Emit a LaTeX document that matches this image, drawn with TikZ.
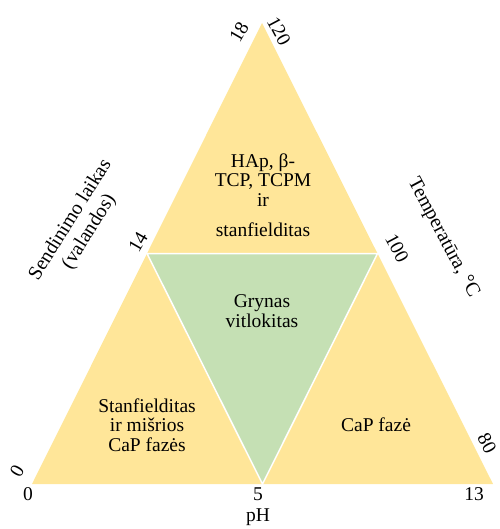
\documentclass[tikz,border=0pt]{standalone}
\usepackage{fontspec}
\setmainfont{LiberationSerif}[Extension=.ttf, UprightFont=*-Regular, BoldFont=*-Bold]
\definecolor{goldfill}{HTML}{FFE699}
\definecolor{greenfill}{HTML}{C5E0B4}
\begin{document}
\begin{tikzpicture}[x=1pt,y=-1pt,
  lbl/.style={font=\fontsize{19.5}{19.5}\selectfont, inner sep=0pt, align=center},
  ttl/.style={font=\fontsize{20}{22}\selectfont, inner sep=0pt, align=center},
  num/.style={font=\fontsize{19.5}{19.5}\selectfont, inner sep=0pt},
  sep/.style={draw=white, line width=1.5pt}]
\useasboundingbox (0,0) rectangle (499,529);
\coordinate (A) at (32,484);
\coordinate (B) at (493,484);
\coordinate (C) at (262,23);
\coordinate (L) at (147,253.5);
\coordinate (R) at (377.5,253.5);
\coordinate (M) at (262.5,484);
\fill[goldfill] (A) -- (B) -- (C) -- cycle;
\fill[greenfill] (L) -- (R) -- (M) -- cycle;
\draw[sep] (L) -- (R) -- (M) -- cycle;
% region texts
\node[lbl] (top) at (263,180) {HAp, β-\\TCP, TCPM\\ir};
\node[lbl] (top2) at (263,230) {stanfielditas};
\node[lbl] (mid) at (262,311) {Grynas\\vitlokitas};
\node[lbl] (left) at (147,425) {Stanfielditas\\ir mišrios\\CaP fazės};
\node[lbl] (right) at (376,425) {CaP fazė};
% axis numbers
\node[num, rotate=60] (n18) at (239,32) {18};
\node[num, rotate=-62] (n120) at (279,31) {120};
\node[num, rotate=60] (n14) at (138,242) {14};
\node[num, rotate=-62] (n100) at (397,248) {100};
\node[num, rotate=60] (n0l) at (17,471) {0};
\node[num, rotate=-62] (n80) at (487,443) {80};
\node[num] (b0) at (28,494) {0};
\node[num] (b5) at (258,494) {5};
\node[num] (b13) at (474,494) {13};
\node[num] (ph) at (258,517) {pH};
% axis titles
\node[ttl, rotate=58] (tleft) at (80,226) {Sendinimo laikas\\(valandos)};
\node[ttl, rotate=-62] (tright) at (443,238) {Temperatūra, °C};
\end{tikzpicture}
\end{document}
